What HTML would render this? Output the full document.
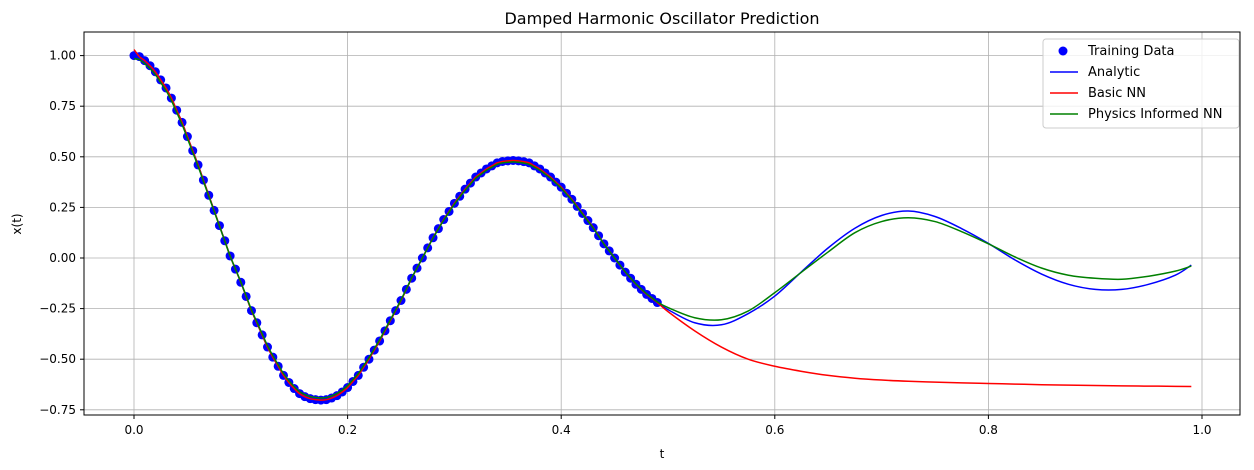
<!DOCTYPE html>
<html><head><meta charset="utf-8">
<style>
body{margin:0;background:#fff;}
svg{display:block;font-family:"DejaVu Sans","Liberation Sans",sans-serif;}
</style></head>
<body>
<svg id="chart" width="1254" height="470">
<text x="662" y="24" font-size="16" text-anchor="middle">Damped Harmonic Oscillator Prediction</text>
<g id="grid"></g>
<g id="ticks"></g>
<g id="series"></g>
<rect x="84" y="32" width="1156" height="383" fill="none" stroke="#000" stroke-width="1"/>
<text x="662" y="458" font-size="12" text-anchor="middle">t</text>
<text x="21" y="224" font-size="12" text-anchor="middle" transform="rotate(-90 21 224)">x(t)</text>
<g>
<rect x="1043" y="39" width="196" height="89" rx="3" fill="#fff" fill-opacity="0.8" stroke="#ccc"/>
<g><circle cx="1063" cy="51" r="4.5" fill="#0000ff"/><text x="1088" y="55" font-size="13">Training Data</text></g>
<g><line x1="1050" y1="72" x2="1078" y2="72" stroke="#0000ff" stroke-width="1.5"/><text x="1088" y="76" font-size="13">Analytic</text></g>
<g><line x1="1050" y1="93" x2="1078" y2="93" stroke="#ff0000" stroke-width="1.5"/><text x="1088" y="97" font-size="13">Basic NN</text></g>
<g><line x1="1050" y1="114" x2="1078" y2="114" stroke="#008000" stroke-width="1.5"/><text x="1088" y="118" font-size="13">Physics Informed NN</text></g>
</g>
</svg>
<script>
const xTicks=[0,0.2,0.4,0.6,0.8,1.0];
const xTickLabels=["0.0","0.2","0.4","0.6","0.8","1.0"];
const yTicks=[-0.75,-0.5,-0.25,0,0.25,0.5,0.75,1.0];
const yTickLabels=["−0.75","−0.50","−0.25","0.00","0.25","0.50","0.75","1.00"];
const trainT=[0,0.005,0.01,0.015,0.02,0.025,0.03,0.035,0.04,0.045,0.05,0.055,0.06,0.065,0.07,0.075,0.08,0.085,0.09,0.095,0.1,0.105,0.11,0.115,0.12,0.125,0.13,0.135,0.14,0.145,0.15,0.155,0.16,0.165,0.17,0.175,0.18,0.185,0.19,0.195,0.2,0.205,0.21,0.215,0.22,0.225,0.23,0.235,0.24,0.245,0.25,0.255,0.26,0.265,0.27,0.275,0.28,0.285,0.29,0.295,0.3,0.305,0.31,0.315,0.32,0.325,0.33,0.335,0.34,0.345,0.35,0.355,0.36,0.365,0.37,0.375,0.38,0.385,0.39,0.395,0.4,0.405,0.41,0.415,0.42,0.425,0.43,0.435,0.44,0.445,0.45,0.455,0.46,0.465,0.47,0.475,0.48,0.485,0.49];
const trainX=[1.00,0.995,0.975,0.95,0.92,0.88,0.84,0.79,0.73,0.67,0.60,0.53,0.46,0.385,0.31,0.235,0.16,0.085,0.01,-0.055,-0.12,-0.19,-0.26,-0.32,-0.38,-0.44,-0.49,-0.535,-0.58,-0.615,-0.645,-0.67,-0.685,-0.695,-0.70,-0.702,-0.70,-0.692,-0.68,-0.662,-0.64,-0.61,-0.58,-0.54,-0.50,-0.455,-0.41,-0.36,-0.31,-0.26,-0.21,-0.155,-0.10,-0.05,0.00,0.05,0.10,0.145,0.19,0.23,0.27,0.305,0.34,0.37,0.40,0.42,0.44,0.455,0.47,0.477,0.48,0.482,0.48,0.476,0.47,0.455,0.44,0.42,0.40,0.375,0.35,0.32,0.29,0.255,0.22,0.185,0.15,0.11,0.07,0.035,0.00,-0.035,-0.07,-0.10,-0.13,-0.155,-0.18,-0.20,-0.22];
const tailT=[0.5,0.525,0.55,0.575,0.6,0.625,0.65,0.675,0.7,0.725,0.75,0.775,0.8,0.825,0.85,0.875,0.9,0.925,0.95,0.975,0.99];
const analyticTail=[-0.255,-0.32,-0.33,-0.275,-0.188,-0.068,0.05,0.147,0.21,0.232,0.205,0.145,0.072,-0.01,-0.08,-0.13,-0.155,-0.155,-0.13,-0.085,-0.035];
const pinnTail=[-0.245,-0.295,-0.305,-0.262,-0.171,-0.07,0.03,0.125,0.18,0.199,0.18,0.13,0.07,0.005,-0.05,-0.085,-0.10,-0.105,-0.09,-0.065,-0.04];
const basicTail=[-0.265,-0.36,-0.44,-0.50,-0.535,-0.56,-0.58,-0.594,-0.603,-0.609,-0.613,-0.617,-0.62,-0.623,-0.626,-0.628,-0.63,-0.632,-0.633,-0.634,-0.635];

const NS="http://www.w3.org/2000/svg";
const X=t=>134+t*1068;
const Y=v=>258-v*202.4;
function mk(tag,attrs,parent){const e=document.createElementNS(NS,tag);for(const k in attrs)e.setAttribute(k,attrs[k]);parent.appendChild(e);return e;}
const grid=document.getElementById('grid'),ticks=document.getElementById('ticks'),series=document.getElementById('series');
xTicks.forEach((t,i)=>{
 const g=mk('line',{x1:X(t),x2:X(t),y1:32,y2:415,stroke:'#b0b0b0','stroke-width':0.8},grid);
 
 
 mk('line',{x1:X(t),x2:X(t),y1:415,y2:419,stroke:'#000'},ticks);
 const tx=mk('text',{x:X(t),y:434,'font-size':12,'text-anchor':'middle'},ticks);
 tx.textContent=xTickLabels[i];
 
 
});
yTicks.forEach((v,i)=>{
 const g=mk('line',{x1:84,x2:1240,y1:Y(v),y2:Y(v),stroke:'#b0b0b0','stroke-width':0.8},grid);
 
 
 mk('line',{x1:80,x2:84,y1:Y(v),y2:Y(v),stroke:'#000'},ticks);
 const tx=mk('text',{x:76,y:Y(v)+4,'font-size':12,'text-anchor':'end'},ticks);
 tx.textContent=yTickLabels[i];
 
 
});
function smooth(ts,vs){
 const p=ts.map((t,i)=>[X(t),Y(vs[i])]);
 let d='M'+p[0][0]+','+p[0][1];
 for(let i=0;i<p.length-1;i++){
  const p0=p[Math.max(0,i-1)],p1=p[i],p2=p[i+1],p3=p[Math.min(p.length-1,i+2)];
  const c1=[p1[0]+(p2[0]-p0[0])/6,p1[1]+(p2[1]-p0[1])/6];
  const c2=[p2[0]-(p3[0]-p1[0])/6,p2[1]-(p3[1]-p1[1])/6];
  d+=' C'+c1+' '+c2+' '+p2;
 }
 return d;
}
trainT.forEach((t,i)=>{
 const c=mk('circle',{cx:X(t),cy:Y(trainX[i]),r:4.5,fill:'#0000ff'},series);
 
 
});
const allT=trainT.concat(tailT);
const a=mk('path',{d:smooth(allT,trainX.concat(analyticTail)),fill:'none',stroke:'#0000ff','stroke-width':1.5},series);


const basicHead=trainX.slice();basicHead[0]=1.03;
const b=mk('path',{d:smooth(allT,basicHead.concat(basicTail)),fill:'none',stroke:'#ff0000','stroke-width':1.5},series);


const pinnHead=trainX.map(v=>v*0.985);
const p=mk('path',{d:smooth(allT,pinnHead.concat(pinnTail)),fill:'none',stroke:'#008000','stroke-width':1.5},series);


</script>
</body></html>
